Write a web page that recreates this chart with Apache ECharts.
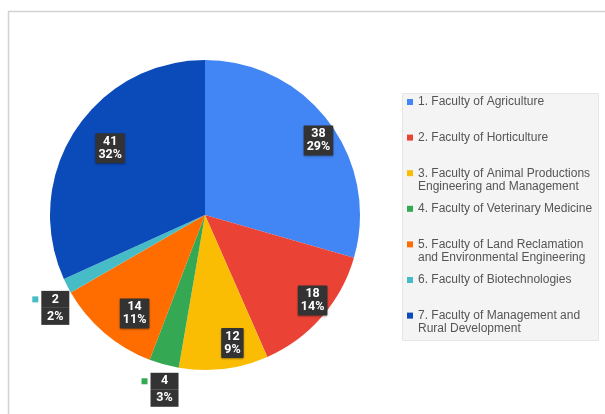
<!DOCTYPE html>
<html>
<head>
<meta charset="utf-8">
<script src="https://cdn.jsdelivr.net/npm/echarts@6/dist/echarts.min.js"></script>
<style>
  html, body { margin: 0; padding: 0; background: #fff; }
  #chart { width: 605px; height: 414px; }
</style>
</head>
<body>
<div id="chart"></div>
<script>
// Students per faculty
const categories = [
  '1. Faculty of Agriculture',
  '2. Faculty of Horticulture',
  '3. Faculty of Animal Productions\nEngineering and Management',
  '4. Faculty of Veterinary Medicine',
  '5. Faculty of Land Reclamation\nand Environmental Engineering',
  '6. Faculty of Biotechnologies',
  '7. Faculty of Management and\nRural Development'
];
const values = [38, 18, 12, 4, 14, 2, 41];
const colors = ['#4285f4', '#ea4335', '#fbbc04', '#34a853', '#ff6d01', '#46bdc6', '#0b4ab9'];
// slices too thin to hold their label: labelled just outside the rim
const outsideLabelled = [3, 5];
const outsideNudge = { 3: [3, 0], 5: [7, 10] };

const CENTER = [205, 215];
const R = 155;
const LEGEND_LINE = 13;

const chart = echarts.init(document.getElementById('chart'), null, { renderer: 'canvas' });

const labelFont = {
  color: '#fff',
  fontFamily: 'Roboto, "Liberation Sans", sans-serif',
  fontWeight: 'bold',
  fontSize: 12.5
};

const boxLabel = Object.assign({
  show: true,
  position: 'inside',
  offset: [12, 2],
  formatter: '{c}\n{d}%',
  lineHeight: 13,
  backgroundColor: '#333',
  padding: [2, 3, 2, 3],
  borderRadius: 1,
  shadowColor: 'rgba(0,0,0,0.35)',
  shadowBlur: 2,
  shadowOffsetY: 1
}, labelFont);

function outsideLabel(i) {
  return {
    show: true,
    position: 'inside',
    offset: outsideNudge[i],
    formatter: '{m|}{g|}{v|{c}}\n{n|}{g|}{v|{d}%}',
    rich: {
      m: { width: 6, height: 6, backgroundColor: colors[i] },
      n: { width: 6, height: 6 },
      g: { width: 3 },
      v: Object.assign({
        width: 20, height: 17, lineHeight: 17, padding: [0, 4],
        align: 'center',
        backgroundColor: '#333'
      }, labelFont)
    }
  };
}

const mainData = categories.map((name, i) => ({
  name, value: values[i], itemStyle: { color: colors[i] }
}));

// label carriers: transparent pies whose "inside" label radius sits where the labels go
const carrierInner = categories.map((name, i) => ({
  name, value: values[i],
  label: outsideLabelled.includes(i) ? { show: false } : boxLabel
}));
const carrierOuter = categories.map((name, i) => ({
  name, value: values[i],
  label: outsideLabelled.includes(i) ? outsideLabel(i) : { show: false }
}));

const carrierBase = {
  type: 'pie',
  center: CENTER,
  silent: true,
  percentPrecision: 0,
  itemStyle: { color: 'rgba(0,0,0,0)' },
  labelLine: { show: false },
  emphasis: { disabled: true },
  animation: false,
  z: 3
};

// every legend entry is three lines tall so the first lines keep an even pitch;
// two-line names get a blank lead line so the marker sits level with their first line
const legendData = categories.map(name => {
  const lines = name.split('\n').length;
  const pad = lines > 1 ? 0 : [LEGEND_LINE, 0, LEGEND_LINE, 0];
  return { name, textStyle: { padding: pad } };
});

chart.setOption({
  animation: false,
  color: colors,
  graphic: [
    {
      type: 'rect',
      silent: true,
      z: -10,
      shape: { x: 8.5, y: 11.5, width: 640, height: 440 },
      style: { fill: 'none', stroke: '#d2d2d2', lineWidth: 1.5 }
    },
    {
      // legend panel
      type: 'rect',
      silent: true,
      z: -5,
      shape: { x: 402.5, y: 93.5, width: 196, height: 247 },
      style: { fill: '#f4f4f4', stroke: '#e6e6e6', lineWidth: 1 }
    }
  ],
  legend: {
    orient: 'vertical',
    left: 407,
    top: 82.5,
    padding: 0,
    itemGap: 35.6 - 3 * LEGEND_LINE,
    itemWidth: 6,
    itemHeight: 6,
    icon: 'rect',
    selectedMode: false,
    data: legendData,
    formatter: name => (name.indexOf('\n') >= 0 ? '\n' + name : name),
    textStyle: {
      color: '#555',
      fontFamily: '"Liberation Sans", Arial, sans-serif',
      fontSize: 12,
      lineHeight: LEGEND_LINE
    }
  },
  series: [
    {
      type: 'pie',
      center: CENTER,
      radius: [0, R],
      startAngle: 90,
      clockwise: true,
      percentPrecision: 0,
      data: mainData,
      label: { show: false },
      labelLine: { show: false },
      emphasis: { disabled: true },
      z: 2
    },
    Object.assign({}, carrierBase, { radius: [0, R * 1.6], data: carrierInner }),
    Object.assign({}, carrierBase, { radius: [0, R * 2.3], data: carrierOuter })
  ]
});
</script>
</body>
</html>
